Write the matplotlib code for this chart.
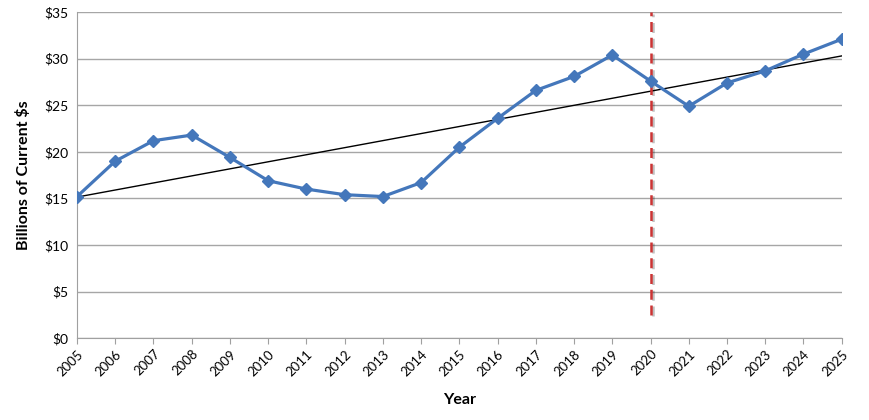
import numpy as np
import matplotlib.pyplot as plt
import matplotlib.patheffects as pe

plt.rcParams['font.family'] = ['Lato', 'DejaVu Sans']

years = list(range(2005, 2026))
values = [15.2, 19.0, 21.2, 21.8, 19.4, 16.9, 16.0, 15.4, 15.2, 16.7, 20.5,
          23.6, 26.6, 28.1, 30.4, 27.6, 24.9, 27.4, 28.7, 30.5, 32.1]
marker_year = 2020
y_ticks = [0, 5, 10, 15, 20, 25, 30, 35]

fig = plt.figure(figsize=(8.7, 4.2), dpi=100)
ax = fig.add_axes([0.0885, 0.195, 0.879, 0.776])

for y in y_ticks:
    ax.axhline(y, color='#A6A6A6', lw=1.0, zorder=0)

# linear trend through the series
slope, intercept = np.polyfit(years, values, 1)
trend = [slope * x + intercept for x in years]
ax.plot(years, trend, color='black', lw=1.0, zorder=2)

ax.plot([marker_year, marker_year], [2.5, 35], color='#CC3333', lw=1.8,
        dashes=(4, 2.3), zorder=3,
        path_effects=[pe.SimpleLineShadow(offset=(2, -1), alpha=0.25), pe.Normal()])

ax.plot(years, values, color='#4477BB', lw=2.3, marker='D', markersize=6,
        zorder=4)

ax.set_xlim(2005, 2025)
ax.set_ylim(0, 35)
ax.set_yticks(y_ticks)
ax.set_yticklabels([f'${v}' for v in y_ticks])
ax.set_xticks(years)
ax.set_xticklabels([str(y) for y in years], rotation=45, ha='right',
                   rotation_mode='anchor')

for s in ['top', 'right']:
    ax.spines[s].set_visible(False)
for s in ['left', 'bottom']:
    ax.spines[s].set_color('#A0A0A0')
ax.tick_params(axis='x', direction='out', length=4, color='#A0A0A0',
               labelsize=9.5, pad=3)
ax.tick_params(axis='y', length=0, labelsize=10, pad=6)

ax.set_xlabel('Year', fontsize=11.5, fontweight='bold', labelpad=11)
ax.set_ylabel('Billions of Current $s', fontsize=11.5, fontweight='bold',
              labelpad=10)

fig.savefig('out.png', dpi=100)
